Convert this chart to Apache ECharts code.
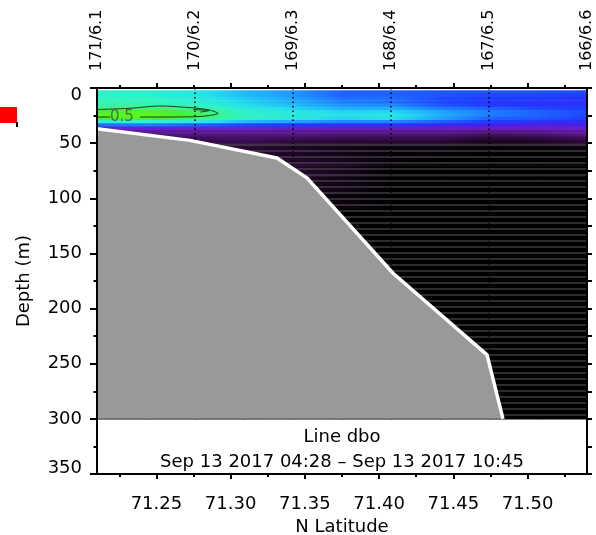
<!DOCTYPE html>
<html>
<head>
<meta charset="utf-8">
<script src="https://cdn.jsdelivr.net/npm/echarts@6/dist/echarts.min.js"></script>
<style>
  html, body { margin: 0; background: #fff; }
  #chart { width: 596px; height: 535px; }
</style>
</head>
<body>
<div id="chart"></div>
<script>
// stations along the line (top axis)
const stationNames = ["171/6.1", "170/6.2", "169/6.3", "168/6.4", "167/6.5", "166/6.6"];
const stationLat = [71.21, 71.276, 71.342, 71.408, 71.474, 71.54];

// axis ticks
const latTicks = [71.25, 71.3, 71.35, 71.4, 71.45, 71.5];
const latMinorTicks = [71.225, 71.275, 71.325, 71.375, 71.425, 71.475, 71.525];

// section grid: columns (latitude) and depth cell edges (m)
const gridLat = [71.21, 71.243, 71.276, 71.309, 71.342, 71.375, 71.408, 71.441, 71.474, 71.507, 71.54];
const depthEdges = [2, 5, 8, 11, 14, 17, 20, 23, 26, 29, 32, 35, 38, 41, 44, 47, 50, 53, 56, 62, 70, 80, 95, 110, 300];

// values per column, one per depth cell
const c00 = [0.44, 0.45, 0.45, 0.46, 0.47, 0.49, 0.53, 0.55, 0.53, 0.44, 0.32, 0.2, 0.15, 0.12, 0.1, 0.08, 0.06, 0.04, 0.02, 0.02, 0.01, 0, 0, 0];
const c01 = [0.44, 0.44, 0.45, 0.46, 0.47, 0.5, 0.55, 0.56, 0.54, 0.45, 0.33, 0.22, 0.17, 0.13, 0.1, 0.08, 0.06, 0.04, 0.02, 0.02, 0.01, 0, 0, 0];
const c02 = [0.42, 0.42, 0.43, 0.44, 0.45, 0.48, 0.51, 0.52, 0.5, 0.43, 0.31, 0.21, 0.17, 0.14, 0.11, 0.09, 0.07, 0.05, 0.04, 0.03, 0.02, 0.01, 0, 0];
const c03 = [0.38, 0.38, 0.39, 0.4, 0.41, 0.43, 0.44, 0.45, 0.44, 0.38, 0.29, 0.21, 0.17, 0.14, 0.12, 0.1, 0.08, 0.07, 0.06, 0.05, 0.03, 0.01, 0, 0];
const c04 = [0.35, 0.35, 0.36, 0.37, 0.38, 0.4, 0.42, 0.43, 0.42, 0.36, 0.28, 0.2, 0.17, 0.14, 0.11, 0.08, 0.06, 0.05, 0.05, 0.06, 0.06, 0.05, 0.03, 0.01];
const c05 = [0.31, 0.31, 0.32, 0.33, 0.35, 0.37, 0.4, 0.41, 0.4, 0.34, 0.27, 0.2, 0.16, 0.13, 0.1, 0.07, 0.05, 0.03, 0.03, 0.04, 0.04, 0.03, 0.02, 0];
const c06 = [0.31, 0.31, 0.32, 0.32, 0.34, 0.37, 0.4, 0.42, 0.41, 0.34, 0.27, 0.2, 0.16, 0.13, 0.1, 0.07, 0.04, 0.02, 0.01, 0.01, 0, 0, 0, 0];
const c07 = [0.3, 0.3, 0.29, 0.29, 0.3, 0.33, 0.36, 0.37, 0.36, 0.31, 0.26, 0.2, 0.16, 0.13, 0.1, 0.07, 0.04, 0.02, 0.01, 0, 0, 0, 0, 0];
const c08 = [0.3, 0.29, 0.28, 0.27, 0.28, 0.31, 0.33, 0.33, 0.31, 0.28, 0.25, 0.2, 0.15, 0.11, 0.07, 0.04, 0.02, 0.01, 0, 0, 0, 0, 0, 0];
const c09 = [0.3, 0.29, 0.28, 0.27, 0.27, 0.29, 0.31, 0.31, 0.3, 0.27, 0.24, 0.2, 0.16, 0.12, 0.08, 0.05, 0.03, 0.01, 0, 0, 0, 0, 0, 0];
const c10 = [0.29, 0.28, 0.27, 0.27, 0.27, 0.28, 0.29, 0.29, 0.28, 0.26, 0.24, 0.21, 0.18, 0.15, 0.11, 0.08, 0.05, 0.02, 0.01, 0, 0, 0, 0, 0];
const gridValues = [c00, c01, c02, c03, c04, c05, c06, c07, c08, c09, c10];

// bottom profile
const bathyLat = [71.21, 71.2726, 71.3312, 71.3514, 71.4094, 71.4727, 71.4834];
const bathyDepth = [37, 47.5, 63.5, 81.5, 168, 242, 300];

// 0.5 contour
const contourLat = [71.21, 71.2322, 71.2524, 71.2699, 71.2774, 71.2855, 71.2915, 71.2855, 71.2774, 71.2524, 71.2389];
const contourDepth = [19.5, 18.4, 16.3, 17.5, 18.4, 19.9, 23, 25, 26, 26.3, 26.3];
const contourStubLat = [71.21, 71.219];
const contourStubDepth = [26.3, 26.3];
const contourLoopLat = [71.2747, 71.2855, 71.2795];
const contourLoopDepth = [19.5, 20.5, 21.8];

// colour scale
const cmapStops = [
  [0, "#000000"], [0.05, "#1e0626"], [0.1, "#3a0c50"], [0.16, "#5a1890"],
  [0.21, "#6a20c8"], [0.25, "#4020f0"], [0.28, "#1e3cff"], [0.32, "#1e70ff"],
  [0.37, "#20b0fa"], [0.41, "#26e0ec"], [0.45, "#30f4c4"], [0.49, "#3cf48a"],
  [0.53, "#48f030"], [0.58, "#70f818"]
];
const hexRgb = (h) => [1, 3, 5].map((i) => parseInt(h.slice(i, i + 2), 16));
function cmap(v) {
  if (v <= cmapStops[0][0]) return cmapStops[0][1];
  for (let i = 1; i < cmapStops.length; i++) {
    if (v <= cmapStops[i][0]) {
      const t = (v - cmapStops[i - 1][0]) / (cmapStops[i][0] - cmapStops[i - 1][0]);
      const a = hexRgb(cmapStops[i - 1][1]), b = hexRgb(cmapStops[i][1]);
      return "rgb(" + a.map((x, k) => Math.round(x + (b[k] - x) * t)).join(",") + ")";
    }
  }
  return cmapStops[cmapStops.length - 1][1];
}

const heatData = [];
for (let c = 0; c < gridLat.length - 1; c++) {
  for (let r = 0; r < depthEdges.length - 1; r++) {
    heatData.push([gridLat[c], gridLat[c + 1], depthEdges[r], depthEdges[r + 1], gridValues[c][r], gridValues[c + 1][r]]);
  }
}

// faint horizontal bin lines in the dark part
const stripeCanvas = document.createElement("canvas");
stripeCanvas.width = 4;
stripeCanvas.height = 6;
const sctx = stripeCanvas.getContext("2d");
sctx.fillStyle = "rgba(75,75,75,0.6)";
sctx.fillRect(0, 0, 4, 2);

const font = "DejaVu Sans";
const axisLine = { show: true, onZero: false, lineStyle: { color: "#000", width: 2 } };
const noLine = { show: false, onZero: false };

const chart = echarts.init(document.getElementById("chart"));
chart.setOption({
  animation: false,
  textStyle: { fontFamily: font },
  grid: { left: 97, right: 9, top: 88, bottom: 61, containLabel: false, outerBoundsMode: "none" },
  xAxis: [
    {
      type: "value", position: "bottom", min: 71.21, max: 71.54, z: 10,
      axisLine,
      axisTick: { customValues: latTicks, length: 5, lineStyle: { color: "#000", width: 2 } },
      axisLabel: { customValues: latTicks, fontSize: 18, color: "#000", margin: 21, formatter: (v) => v.toFixed(2) },
      splitLine: { show: false },
      name: "N Latitude", nameLocation: "middle", nameGap: 41,
      nameTextStyle: { fontSize: 18, color: "#000" }
    },
    {
      type: "value", position: "bottom", min: 71.21, max: 71.54, z: 10,
      axisLine: noLine,
      axisTick: { customValues: latMinorTicks, length: 3, lineStyle: { color: "#000", width: 2 } },
      axisLabel: { show: false }, splitLine: { show: false }
    },
    {
      type: "value", position: "top", min: 71.21, max: 71.54, z: 10,
      axisLine,
      axisTick: { customValues: latTicks, length: 5, lineStyle: { color: "#000", width: 2 } },
      axisLabel: { show: false }, splitLine: { show: false }
    },
    {
      type: "value", position: "top", min: 71.21, max: 71.54, z: 10,
      axisLine: noLine,
      axisTick: { customValues: latMinorTicks, length: 3, lineStyle: { color: "#000", width: 2 } },
      axisLabel: { show: false }, splitLine: { show: false }
    },
    {
      type: "value", position: "top", min: 0, max: 5, interval: 1, z: 10,
      axisLine: noLine, axisTick: { show: false }, splitLine: { show: false },
      axisLabel: { rotate: -90, margin: 17, fontSize: 16, color: "#000", formatter: (i) => stationNames[i] }
    }
  ],
  yAxis: [
    {
      type: "value", position: "left", min: 0, max: 350, interval: 50, inverse: true, z: 10,
      axisLine,
      axisTick: { length: 7, lineStyle: { color: "#000", width: 2 } },
      minorTick: { show: true, splitNumber: 2, length: 3.5, lineStyle: { color: "#000", width: 2 } },
      axisLabel: {
        fontSize: 18, color: "#000", margin: 15,
        formatter: (v) => (v === 0 ? "{a|0}" : v === 350 ? "{b|350}" : String(v)),
        rich: {
          a: { fontSize: 18, color: "#000", fontFamily: font, padding: [14, 0, 0, 0] },
          b: { fontSize: 18, color: "#000", fontFamily: font, padding: [0, 0, 12, 0] }
        }
      },
      splitLine: { show: false },
      name: "Depth (m)", nameLocation: "middle", nameGap: 64,
      nameTextStyle: { fontSize: 18, color: "#000" }
    },
    {
      type: "value", position: "right", min: 0, max: 350, interval: 50, inverse: true, z: 10,
      axisLine,
      axisTick: { length: 5, lineStyle: { color: "#000", width: 2 } },
      minorTick: { show: true, splitNumber: 2, length: 5, lineStyle: { color: "#000", width: 2 } },
      axisLabel: { show: false }, splitLine: { show: false }
    }
  ],
  graphic: [
    { type: "rect", left: 0, top: 107, shape: { width: 17, height: 16 }, style: { fill: "#ff0000" } },
    { type: "rect", left: 16, top: 122, shape: { width: 2, height: 5 }, style: { fill: "#000" } },
    { type: "text", x: 342, y: 437, style: { text: "Line dbo", font: "18px " + font, fill: "#000", textAlign: "center", textVerticalAlign: "middle" } },
    { type: "text", x: 342, y: 462, style: { text: "Sep 13 2017 04:28 \u2013 Sep 13 2017 10:45", font: "18px " + font, fill: "#000", textAlign: "center", textVerticalAlign: "middle" } }
  ],
  series: [
    {
      type: "custom", name: "section", clip: true, z: 1,
      encode: { x: [0, 1], y: [2, 3] },
      data: heatData,
      renderItem: (params, api) => {
        const a = api.coord([api.value(0), api.value(2)]);
        const b = api.coord([api.value(1), api.value(3)]);
        const v0 = api.value(4), v1 = api.value(5);
        const stops = [];
        for (let k = 0; k <= 4; k++) stops.push({ offset: k / 4, color: cmap(v0 + (v1 - v0) * k / 4) });
        return {
          type: "rect",
          shape: { x: a[0], y: a[1], width: b[0] - a[0] + 0.6, height: b[1] - a[1] + 0.6 },
          style: { fill: new echarts.graphic.LinearGradient(0, 0, 1, 0, stops) }
        };
      }
    },
    {
      type: "custom", name: "bins", clip: true, z: 2,
      encode: { x: [0, 1], y: [2, 3] },
      data: [[71.21, 71.54, 50, 300]],
      renderItem: (params, api) => {
        const a = api.coord([api.value(0), api.value(2)]);
        const b = api.coord([api.value(1), api.value(3)]);
        return {
          type: "rect",
          shape: { x: a[0], y: a[1], width: b[0] - a[0], height: b[1] - a[1] },
          style: { fill: { type: "pattern", image: stripeCanvas, repeat: "repeat" } }
        };
      }
    },
    {
      type: "custom", name: "stations", clip: true, z: 3,
      encode: { x: 0 },
      data: stationLat.map((l) => [l]),
      renderItem: (params, api) => {
        const a = api.coord([api.value(0), 0]);
        const b = api.coord([api.value(0), 300]);
        return {
          type: "line",
          shape: { x1: a[0], y1: a[1], x2: b[0], y2: b[1] },
          style: { stroke: "#000", lineWidth: 1.5, lineDash: [1.5, 3] }
        };
      }
    },
    {
      type: "line", name: "contour", z: 4, symbol: "none", smooth: 0.3,
      data: contourLat.map((l, i) => [l, contourDepth[i]]),
      lineStyle: { color: "#1d3a22", width: 1 }
    },
    {
      type: "line", name: "contour stub", z: 4, symbol: "none",
      data: contourStubLat.map((l, i) => [l, contourStubDepth[i]]),
      lineStyle: { color: "#1d3a22", width: 1 }
    },
    {
      type: "line", name: "contour loop", z: 4, symbol: "none", smooth: 0.3,
      data: contourLoopLat.map((l, i) => [l, contourLoopDepth[i]]),
      lineStyle: { color: "#1d3a22", width: 1 }
    },
    {
      type: "scatter", name: "contour label", z: 5, symbolSize: 1,
      itemStyle: { color: "rgba(0,0,0,0)" },
      data: [[71.2268, 26.3]],
      label: { show: true, position: "inside", formatter: "0.5", fontSize: 15, color: "#2d5d3d" }
    },
    {
      type: "line", name: "bottom", z: 6, symbol: "none",
      data: bathyLat.map((l, i) => [l, bathyDepth[i]]),
      lineStyle: { color: "#fff", width: 3.5 },
      areaStyle: { color: "#999999", opacity: 1, origin: 300 }
    }
  ]
});
</script>
</body>
</html>
